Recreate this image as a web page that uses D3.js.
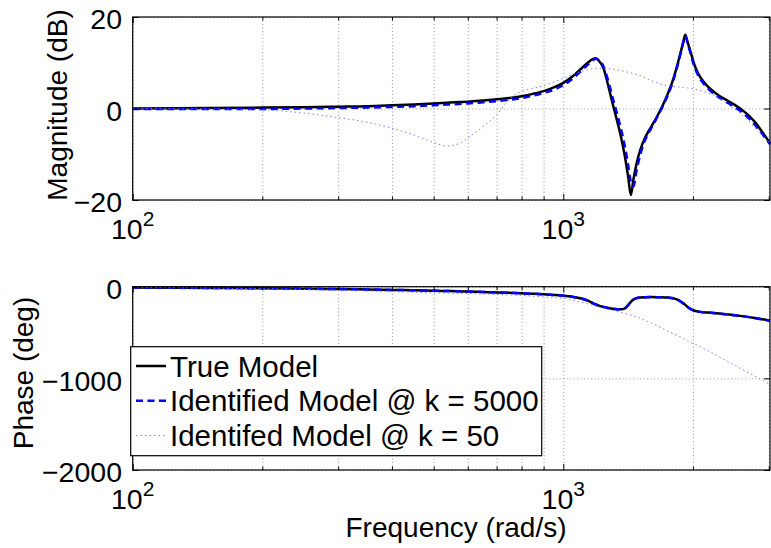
<!DOCTYPE html>
<html>
<head>
<meta charset="utf-8">
<script src="https://cdn.jsdelivr.net/npm/d3@7"></script>
<style>
body{margin:0;background:#fff}
svg{display:block;font-family:"Liberation Sans",Arial,Helvetica,sans-serif}
.grid line{stroke:#9a9a9a;stroke-dasharray:1,2.5}
.grid path,.tk path{display:none}
</style>
</head>
<body>
<svg></svg>
<script>
// frequencies (rad/s)
const freq = [100,150,200,250,300,350,400,450,500,536,
  575,600,650,700,750,800,850,900,950,1000,
  1050,1100,1140,1170,1190,1210,1240,1270,1300,1330,
  1360,1390,1415,1435,1455,1480,1510,1550,1600,1650,
  1700,1750,1800,1840,1870,1900,1920,1945,1975,2010,
  2060,2120,2200,2300,2400,2500,2600,2700,2800,2900,
  3020];

// magnitude (dB)
const magTrue = [0,0.1,0.2,0.3,0.4,0.5,0.7,0.9,1.1,1.25,
  1.4,1.5,1.75,2.0,2.3,2.7,3.2,3.8,4.6,5.6,
  7.0,8.7,10.0,10.8,11.0,10.4,8.8,5.2,1.3,-2.3,
  -6.0,-10.5,-15.0,-18.9,-15.5,-12.0,-9.0,-6.3,-4.0,-1.8,
  0.6,3.3,6.4,9.5,12.0,14.6,16.1,14.4,12.4,9.9,
  7.5,5.8,4.2,2.8,1.8,0.8,-0.3,-1.6,-3.2,-5.2,
  -7.6];
const magK5000 = [-0.1,-0.1,-0.1,0,0.1,0.2,0.35,0.5,0.7,0.85,
  1.0,1.1,1.35,1.6,1.9,2.3,2.8,3.4,4.1,5.1,
  6.5,8.2,9.6,10.5,10.9,10.6,9.2,6.2,2.6,-0.8,
  -4.3,-8.3,-12.5,-16.0,-17.0,-13.5,-10.0,-6.8,-4.3,-2.0,
  0.4,3.0,6.1,9.2,11.8,14.5,15.8,14.2,12.0,9.5,
  7.1,5.4,3.8,2.4,1.3,0.3,-0.8,-2.2,-3.8,-5.6,
  -7.8];
const magK50 = [0,-0.1,-0.3,-1.0,-2.0,-3.0,-4.3,-5.8,-7.4,-8.2,
  -7.6,-6.4,-4.0,-1.4,2.0,3.7,4.4,5.0,5.8,6.6,
  7.4,8.1,8.5,8.7,8.8,8.8,8.8,8.7,8.6,8.5,
  8.3,8.1,7.9,7.8,7.6,7.4,7.2,6.7,6.1,5.6,
  5.2,5.0,4.8,4.7,4.7,4.6,4.6,4.5,4.4,4.3,
  4.0,3.7,3.2,2.3,1.1,-0.2,-1.4,-2.9,-4.4,-5.8,
  -7.5];

// phase (deg)
const phaseTrue = [-8,-13,-17,-22,-26,-30,-35,-39,-44,-47,
  -50,-53,-57,-62,-67,-72,-77,-83,-90,-98,
  -110,-128,-152,-178,-194,-207,-222,-233,-240,-245,
  -247,-236,-200,-165,-140,-124,-117,-114,-113,-114,
  -116,-119,-126,-142,-160,-182,-198,-222,-243,-260,
  -272,-279,-285,-293,-302,-311,-321,-332,-344,-356,
  -372];
const phaseK5000 = [-8,-13,-17,-22,-26,-30,-35,-39,-44,-47,
  -50,-53,-57,-62,-67,-72,-77,-83,-90,-98,
  -110,-128,-152,-178,-194,-207,-222,-233,-240,-245,
  -247,-236,-200,-165,-140,-124,-117,-114,-113,-114,
  -116,-119,-126,-142,-160,-182,-198,-222,-243,-260,
  -272,-279,-285,-293,-302,-311,-321,-332,-344,-356,
  -372];
const phaseK50 = [-8,-15,-22,-30,-38,-46,-54,-61,-67,-70,
  -73,-75,-79,-84,-90,-96,-103,-110,-118,-127,
  -145,-168,-188,-202,-212,-222,-236,-248,-258,-269,
  -280,-292,-302,-310,-318,-330,-345,-368,-395,-425,
  -455,-485,-512,-532,-548,-564,-576,-590,-606,-625,
  -645,-675,-715,-765,-812,-858,-900,-942,-982,-1022,
  -1065];

const magTicks = [-20,0,20];
const phaseTicks = [-2000,-1000,0];
const decades = [100,1000];
const decadeExp = ["2","3"];
const minorTicks = [200,300,400,500,600,700,800,900,2000,3000];
const legendLabels = ["True Model","Identified Model @ k = 5000","Identifed Model @ k = 50"];

let width = 771, height = 548,
    left = 132.7, right = 770,
    xScale = d3.scaleLog().domain([100,3020]).range([left,right]),
    magScale = d3.scaleLinear().domain([-20,20]).range([200,17]),
    phaseScale = d3.scaleLinear().domain([-2000,0]).range([470,286.7]),
    svg = d3.select("svg").attr("width",width).attr("height",height);

const styles = [
  {stroke:"#000",width:2.5,dash:null},
  {stroke:"#0000ff",width:2.5,dash:"7,4.5"},
  {stroke:"#7d7dff",width:1,dash:"1.5,3"}
];

function panel(yScale, yTicks, series, yLabel, labelY, labelX){
  let top = yScale.range()[1], bot = yScale.range()[0];

  // dotted grid
  svg.append("g").attr("class","grid")
    .attr("transform",`translate(0,${bot})`)
    .call(d3.axisBottom(xScale).tickValues(minorTicks.concat(decades)).tickSize(-(bot-top)).tickFormat(""));
  svg.append("g").attr("class","grid")
    .attr("transform",`translate(${left},0)`)
    .call(d3.axisLeft(yScale).tickValues(yTicks).tickSize(-(right-left)).tickFormat(""));

  // curves
  let line = d3.line().x(d=>xScale(d[0])).y(d=>yScale(d[1])).curve(d3.curveMonotoneX);
  series.forEach((s,i)=>{
    svg.append("path")
      .datum(freq.map((f,j)=>[f,s[j]]))
      .attr("d",line)
      .attr("fill","none")
      .attr("stroke",styles[i].stroke)
      .attr("stroke-width",styles[i].width)
      .attr("stroke-dasharray",styles[i].dash)
      .attr("stroke-linejoin","round");
  });

  // ticks, inside the box
  [[d3.axisBottom,bot],[d3.axisTop,top]].forEach(([ax,pos])=>{
    svg.append("g").attr("class","tk").attr("transform",`translate(0,${pos})`)
      .call(ax(xScale).tickValues(decades).tickSize(-6).tickFormat(""));
    svg.append("g").attr("class","tk").attr("transform",`translate(0,${pos})`)
      .call(ax(xScale).tickValues(minorTicks).tickSize(-3.5).tickFormat(""));
  });
  svg.append("g").attr("class","tk").attr("transform",`translate(${right},0)`)
    .call(d3.axisRight(yScale).tickValues(yTicks).tickSize(-6).tickFormat(""));
  svg.append("g").attr("class","tk").attr("transform",`translate(${left},0)`)
    .call(d3.axisLeft(yScale).tickValues(yTicks).tickSize(-6).tickPadding(10.7).tickFormat(d3.format("d")))
    .call(g=>g.selectAll("text").attr("font-size",28.5).attr("font-family",null).attr("dy","0.42em").attr("fill","#000"));

  svg.append("rect")
    .attr("x",left).attr("y",top).attr("width",right-left).attr("height",bot-top)
    .attr("fill","none").attr("stroke","#000").attr("stroke-width",1.2);

  // decade labels 10^n
  decades.forEach((d,i)=>{
    let t = svg.append("text")
      .attr("x",xScale(d)).attr("y",bot+39)
      .attr("text-anchor","middle").attr("font-size",28.5);
    t.append("tspan").text("10");
    t.append("tspan").attr("dy",-13).attr("font-size",21).text(decadeExp[i]);
  });

  svg.append("text")
    .attr("transform",`translate(${labelX},${labelY}) rotate(-90)`)
    .attr("text-anchor","middle").attr("font-size",28)
    .text(yLabel);
}

panel(magScale, magTicks, [magTrue,magK5000,magK50], "Magnitude (dB)", 105, 67);
panel(phaseScale, phaseTicks, [phaseTrue,phaseK5000,phaseK50], "Phase (deg)", 373, 33);

svg.append("text")
  .attr("x",456).attr("y",537)
  .attr("text-anchor","middle").attr("font-size",28)
  .text("Frequency (rad/s)");

// legend
let legend = svg.append("g");
legend.append("rect")
  .attr("x",130.7).attr("y",346.7).attr("width",411).attr("height",109)
  .attr("fill","#fff").attr("stroke","#000").attr("stroke-width",1.2);
legendLabels.forEach((l,i)=>{
  let y = 366 + i*34.8;
  legend.append("line")
    .attr("x1",136).attr("x2",166).attr("y1",y).attr("y2",y)
    .attr("stroke",styles[i].stroke)
    .attr("stroke-width",styles[i].width)
    .attr("stroke-dasharray",styles[i].dash);
  legend.append("text")
    .attr("x",170).attr("y",y+10.5)
    .attr("font-size",29.5)
    .text(l);
});
</script>
</body>
</html>
